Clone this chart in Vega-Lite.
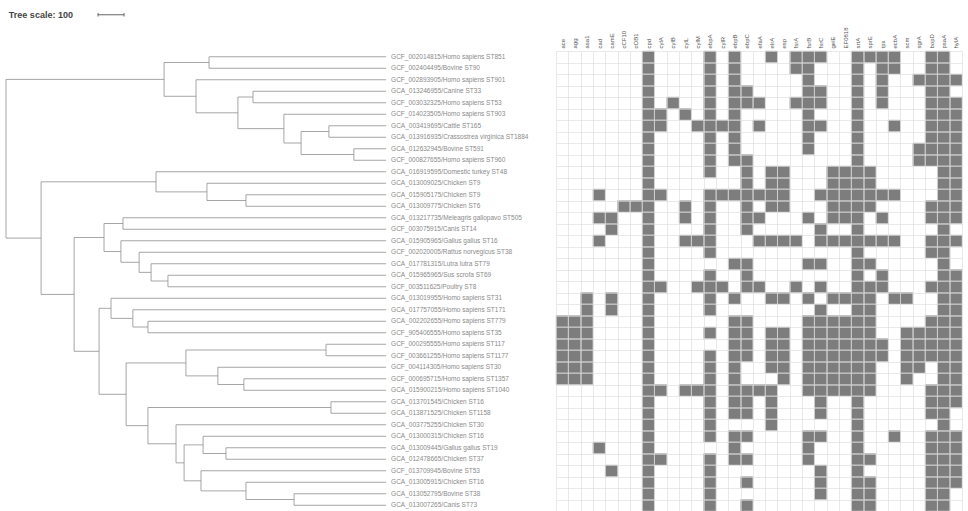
{
  "$schema": "https://vega.github.io/schema/vega-lite/v6.json",
  "padding": {"left": 5, "top": 10, "right": 0, "bottom": 0},
  "spacing": 0,
  "background": "white",
  "config": {"view": {"stroke": null}, "font": "Liberation Sans"},
  "datasets": {
    "tree": [
      {"x":0,"x2":0,"y":1.969,"y2":15.77},
      {"x":0,"x2":608,"y":1.969,"y2":1.969},
      {"x":0,"x2":135,"y":15.77,"y2":15.77},
      {"x":608,"x2":608,"y":0.5,"y2":3.4375},
      {"x":608,"x2":781,"y":0.5,"y2":0.5},
      {"x":608,"x2":731,"y":3.4375,"y2":3.4375},
      {"x":781,"x2":781,"y":0,"y2":1},
      {"x":781,"x2":1462,"y":0,"y2":0},
      {"x":781,"x2":1462,"y":1,"y2":1},
      {"x":731,"x2":731,"y":2,"y2":4.875},
      {"x":731,"x2":1462,"y":2,"y2":2},
      {"x":731,"x2":892,"y":4.875,"y2":4.875},
      {"x":892,"x2":892,"y":3.5,"y2":6.25},
      {"x":892,"x2":950,"y":3.5,"y2":3.5},
      {"x":892,"x2":1069,"y":6.25,"y2":6.25},
      {"x":950,"x2":950,"y":3,"y2":4},
      {"x":950,"x2":1462,"y":3,"y2":3},
      {"x":950,"x2":1462,"y":4,"y2":4},
      {"x":1069,"x2":1069,"y":5,"y2":7.5},
      {"x":1069,"x2":1462,"y":5,"y2":5},
      {"x":1069,"x2":1135,"y":7.5,"y2":7.5},
      {"x":1135,"x2":1135,"y":6.5,"y2":8.5},
      {"x":1135,"x2":1242,"y":6.5,"y2":6.5},
      {"x":1135,"x2":1338,"y":8.5,"y2":8.5},
      {"x":1242,"x2":1242,"y":6,"y2":7},
      {"x":1242,"x2":1462,"y":6,"y2":6},
      {"x":1242,"x2":1462,"y":7,"y2":7},
      {"x":1338,"x2":1338,"y":8,"y2":9},
      {"x":1338,"x2":1462,"y":8,"y2":8},
      {"x":1338,"x2":1462,"y":9,"y2":9},
      {"x":135,"x2":135,"y":10.875,"y2":20.666},
      {"x":135,"x2":577,"y":10.875,"y2":10.875},
      {"x":135,"x2":262,"y":20.666,"y2":20.666},
      {"x":577,"x2":577,"y":10,"y2":11.75},
      {"x":577,"x2":1462,"y":10,"y2":10},
      {"x":577,"x2":773,"y":11.75,"y2":11.75},
      {"x":773,"x2":773,"y":11,"y2":12.5},
      {"x":773,"x2":1462,"y":11,"y2":11},
      {"x":773,"x2":923,"y":12.5,"y2":12.5},
      {"x":923,"x2":923,"y":12,"y2":13},
      {"x":923,"x2":1462,"y":12,"y2":12},
      {"x":923,"x2":1462,"y":13,"y2":13},
      {"x":262,"x2":262,"y":15.719,"y2":25.613},
      {"x":262,"x2":377,"y":15.719,"y2":15.719},
      {"x":262,"x2":358,"y":25.613,"y2":25.613},
      {"x":377,"x2":377,"y":14.5,"y2":16.938},
      {"x":377,"x2":450,"y":14.5,"y2":14.5},
      {"x":377,"x2":442,"y":16.938,"y2":16.938},
      {"x":450,"x2":450,"y":14,"y2":15},
      {"x":450,"x2":1462,"y":14,"y2":14},
      {"x":450,"x2":1462,"y":15,"y2":15},
      {"x":442,"x2":442,"y":16,"y2":17.875},
      {"x":442,"x2":1462,"y":16,"y2":16},
      {"x":442,"x2":512,"y":17.875,"y2":17.875},
      {"x":512,"x2":512,"y":17,"y2":18.75},
      {"x":512,"x2":1462,"y":17,"y2":17},
      {"x":512,"x2":558,"y":18.75,"y2":18.75},
      {"x":558,"x2":558,"y":18,"y2":19.5},
      {"x":558,"x2":1462,"y":18,"y2":18},
      {"x":558,"x2":623,"y":19.5,"y2":19.5},
      {"x":623,"x2":623,"y":19,"y2":20},
      {"x":623,"x2":1462,"y":19,"y2":19},
      {"x":623,"x2":1462,"y":20,"y2":20},
      {"x":358,"x2":358,"y":21.875,"y2":29.352},
      {"x":358,"x2":404,"y":21.875,"y2":21.875},
      {"x":358,"x2":462,"y":29.352,"y2":29.352},
      {"x":404,"x2":404,"y":21,"y2":22.75},
      {"x":404,"x2":1462,"y":21,"y2":21},
      {"x":404,"x2":488,"y":22.75,"y2":22.75},
      {"x":488,"x2":488,"y":22,"y2":23.5},
      {"x":488,"x2":1462,"y":22,"y2":22},
      {"x":488,"x2":546,"y":23.5,"y2":23.5},
      {"x":546,"x2":546,"y":23,"y2":24},
      {"x":546,"x2":1462,"y":23,"y2":23},
      {"x":546,"x2":1462,"y":24,"y2":24},
      {"x":462,"x2":462,"y":26.625,"y2":32.078},
      {"x":462,"x2":692,"y":26.625,"y2":26.625},
      {"x":462,"x2":546,"y":32.078,"y2":32.078},
      {"x":692,"x2":692,"y":25.5,"y2":27.75},
      {"x":692,"x2":1231,"y":25.5,"y2":25.5},
      {"x":692,"x2":815,"y":27.75,"y2":27.75},
      {"x":1231,"x2":1231,"y":25,"y2":26},
      {"x":1231,"x2":1462,"y":25,"y2":25},
      {"x":1231,"x2":1462,"y":26,"y2":26},
      {"x":815,"x2":815,"y":27,"y2":28.5},
      {"x":815,"x2":1462,"y":27,"y2":27},
      {"x":815,"x2":915,"y":28.5,"y2":28.5},
      {"x":915,"x2":915,"y":28,"y2":29},
      {"x":915,"x2":1462,"y":28,"y2":28},
      {"x":915,"x2":1462,"y":29,"y2":29},
      {"x":546,"x2":546,"y":30.5,"y2":33.656},
      {"x":546,"x2":1250,"y":30.5,"y2":30.5},
      {"x":546,"x2":654,"y":33.656,"y2":33.656},
      {"x":1250,"x2":1250,"y":30,"y2":31},
      {"x":1250,"x2":1462,"y":30,"y2":30},
      {"x":1250,"x2":1462,"y":31,"y2":31},
      {"x":654,"x2":654,"y":32,"y2":35.313},
      {"x":654,"x2":1462,"y":32,"y2":32},
      {"x":654,"x2":685,"y":35.313,"y2":35.313},
      {"x":685,"x2":685,"y":33.75,"y2":36.875},
      {"x":685,"x2":758,"y":33.75,"y2":33.75},
      {"x":685,"x2":750,"y":36.875,"y2":36.875},
      {"x":758,"x2":758,"y":33,"y2":34.5},
      {"x":758,"x2":1462,"y":33,"y2":33},
      {"x":758,"x2":846,"y":34.5,"y2":34.5},
      {"x":846,"x2":846,"y":34,"y2":35},
      {"x":846,"x2":1462,"y":34,"y2":34},
      {"x":846,"x2":1462,"y":35,"y2":35},
      {"x":750,"x2":750,"y":36,"y2":37.75},
      {"x":750,"x2":1462,"y":36,"y2":36},
      {"x":750,"x2":923,"y":37.75,"y2":37.75},
      {"x":923,"x2":923,"y":37,"y2":38.5},
      {"x":923,"x2":1462,"y":37,"y2":37},
      {"x":923,"x2":1108,"y":38.5,"y2":38.5},
      {"x":1108,"x2":1108,"y":38,"y2":39},
      {"x":1108,"x2":1462,"y":38,"y2":38},
      {"x":1108,"x2":1462,"y":39,"y2":39}
    ],
    "scalebar": [
      {"x":354,"x2":454,"y":-3.65,"y2":-3.65},
      {"x":354,"x2":354,"y":-3.8,"y2":-3.5},
      {"x":454,"x2":454,"y":-3.8,"y2":-3.5}
    ],
    "title": [{"label":"Tree scale: 100","x":11,"y":-3.65}],
    "leaves": [
      {"row":0,"label":"GCF_002014815/Homo sapiens ST851"},
      {"row":1,"label":"GCF_002404495/Bovine ST90"},
      {"row":2,"label":"GCF_002893905/Homo sapiens ST901"},
      {"row":3,"label":"GCA_013246955/Canine ST33"},
      {"row":4,"label":"GCF_003032325/Homo sapiens ST53"},
      {"row":5,"label":"GCF_014023505/Homo sapiens ST903"},
      {"row":6,"label":"GCA_003419695/Cattle ST165"},
      {"row":7,"label":"GCA_013916935/Crassostrea virginica ST1884"},
      {"row":8,"label":"GCA_012632945/Bovine ST591"},
      {"row":9,"label":"GCF_000827655/Homo sapiens ST960"},
      {"row":10,"label":"GCA_016919595/Domestic turkey ST48"},
      {"row":11,"label":"GCA_013009025/Chicken ST9"},
      {"row":12,"label":"GCA_015905175/Chicken ST9"},
      {"row":13,"label":"GCA_013009775/Chicken ST6"},
      {"row":14,"label":"GCA_013217735/Meleagris gallopavo ST505"},
      {"row":15,"label":"GCF_003075915/Canis ST14"},
      {"row":16,"label":"GCA_015905965/Gallus gallus ST16"},
      {"row":17,"label":"GCF_002020005/Rattus norvegicus ST38"},
      {"row":18,"label":"GCA_017781315/Lutra lutra ST79"},
      {"row":19,"label":"GCA_015965965/Sus scrofa ST69"},
      {"row":20,"label":"GCF_003511625/Poultry ST8"},
      {"row":21,"label":"GCA_013019955/Homo sapiens ST31"},
      {"row":22,"label":"GCA_017757055/Homo sapiens ST171"},
      {"row":23,"label":"GCA_002202655/Homo sapiens ST779"},
      {"row":24,"label":"GCF_905406555/Homo sapiens ST35"},
      {"row":25,"label":"GCF_000295555/Homo sapiens ST117"},
      {"row":26,"label":"GCF_003661255/Homo sapiens ST1177"},
      {"row":27,"label":"GCF_004114305/Homo sapiens ST30"},
      {"row":28,"label":"GCF_000695715/Homo sapiens ST1357"},
      {"row":29,"label":"GCA_015900215/Homo sapiens ST1040"},
      {"row":30,"label":"GCA_013701545/Chicken ST16"},
      {"row":31,"label":"GCA_013871525/Chicken ST1158"},
      {"row":32,"label":"GCA_003775255/Chicken ST30"},
      {"row":33,"label":"GCA_013000315/Chicken ST16"},
      {"row":34,"label":"GCA_013009445/Gallus gallus ST19"},
      {"row":35,"label":"GCA_012478665/Chicken ST37"},
      {"row":36,"label":"GCF_013709945/Bovine ST53"},
      {"row":37,"label":"GCA_013005915/Chicken ST16"},
      {"row":38,"label":"GCA_013052795/Bovine ST38"},
      {"row":39,"label":"GCA_013007265/Canis ST73"}
    ],
    "cells": [
      {"g":"ace","r":23},{"g":"ace","r":24},{"g":"ace","r":25},{"g":"ace","r":26},{"g":"ace","r":27},{"g":"ace","r":28},
      {"g":"agg","r":23},{"g":"agg","r":24},{"g":"agg","r":25},{"g":"agg","r":26},{"g":"agg","r":27},{"g":"agg","r":28},
      {"g":"asa1","r":21},{"g":"asa1","r":22},{"g":"asa1","r":23},{"g":"asa1","r":24},{"g":"asa1","r":25},{"g":"asa1","r":26},{"g":"asa1","r":27},{"g":"asa1","r":28},
      {"g":"cad","r":12},{"g":"cad","r":14},{"g":"cad","r":16},{"g":"cad","r":34},
      {"g":"camE","r":14},{"g":"camE","r":15},{"g":"camE","r":21},{"g":"camE","r":22},{"g":"camE","r":36},
      {"g":"cCF10","r":13},
      {"g":"cOB1","r":13},
      {"g":"cpd","r":0},{"g":"cpd","r":1},{"g":"cpd","r":2},{"g":"cpd","r":3},{"g":"cpd","r":4},{"g":"cpd","r":5},{"g":"cpd","r":6},{"g":"cpd","r":7},{"g":"cpd","r":8},{"g":"cpd","r":9},
      {"g":"cpd","r":10},{"g":"cpd","r":11},{"g":"cpd","r":12},{"g":"cpd","r":13},{"g":"cpd","r":14},{"g":"cpd","r":15},{"g":"cpd","r":16},{"g":"cpd","r":17},{"g":"cpd","r":18},{"g":"cpd","r":19},
      {"g":"cpd","r":20},{"g":"cpd","r":21},{"g":"cpd","r":22},{"g":"cpd","r":23},{"g":"cpd","r":24},{"g":"cpd","r":25},{"g":"cpd","r":26},{"g":"cpd","r":27},{"g":"cpd","r":28},{"g":"cpd","r":29},
      {"g":"cpd","r":30},{"g":"cpd","r":31},{"g":"cpd","r":32},{"g":"cpd","r":33},{"g":"cpd","r":34},{"g":"cpd","r":35},{"g":"cpd","r":36},{"g":"cpd","r":37},{"g":"cpd","r":38},{"g":"cpd","r":39},
      {"g":"cylA","r":5},{"g":"cylA","r":6},{"g":"cylA","r":12},{"g":"cylA","r":20},{"g":"cylA","r":29},{"g":"cylA","r":35},
      {"g":"cylB","r":4},
      {"g":"cylL","r":5},{"g":"cylL","r":13},{"g":"cylL","r":14},{"g":"cylL","r":16},{"g":"cylL","r":29},
      {"g":"cylM","r":6},{"g":"cylM","r":16},{"g":"cylM","r":20},{"g":"cylM","r":29},
      {"g":"ebpA","r":0},{"g":"ebpA","r":1},{"g":"ebpA","r":2},{"g":"ebpA","r":3},{"g":"ebpA","r":4},{"g":"ebpA","r":5},{"g":"ebpA","r":6},{"g":"ebpA","r":7},{"g":"ebpA","r":8},{"g":"ebpA","r":9},{"g":"ebpA","r":10},
      {"g":"ebpA","r":12},{"g":"ebpA","r":13},{"g":"ebpA","r":14},{"g":"ebpA","r":15},{"g":"ebpA","r":16},{"g":"ebpA","r":17},
      {"g":"ebpA","r":19},{"g":"ebpA","r":20},{"g":"ebpA","r":21},{"g":"ebpA","r":22},{"g":"ebpA","r":24},
      {"g":"ebpA","r":26},{"g":"ebpA","r":27},{"g":"ebpA","r":28},{"g":"ebpA","r":29},{"g":"ebpA","r":30},{"g":"ebpA","r":31},{"g":"ebpA","r":32},{"g":"ebpA","r":33},
      {"g":"ebpA","r":35},{"g":"ebpA","r":36},{"g":"ebpA","r":37},{"g":"ebpA","r":38},{"g":"ebpA","r":39},
      {"g":"cylR","r":6},{"g":"cylR","r":12},{"g":"cylR","r":20},
      {"g":"ebpB","r":0},{"g":"ebpB","r":1},{"g":"ebpB","r":2},{"g":"ebpB","r":3},{"g":"ebpB","r":4},{"g":"ebpB","r":5},{"g":"ebpB","r":6},{"g":"ebpB","r":7},{"g":"ebpB","r":8},{"g":"ebpB","r":9},
      {"g":"ebpB","r":12},{"g":"ebpB","r":18},{"g":"ebpB","r":21},
      {"g":"ebpB","r":23},{"g":"ebpB","r":24},{"g":"ebpB","r":25},{"g":"ebpB","r":26},{"g":"ebpB","r":27},{"g":"ebpB","r":28},{"g":"ebpB","r":29},{"g":"ebpB","r":30},{"g":"ebpB","r":31},
      {"g":"ebpB","r":33},{"g":"ebpB","r":34},{"g":"ebpB","r":35},
      {"g":"ebpC","r":3},{"g":"ebpC","r":4},{"g":"ebpC","r":9},{"g":"ebpC","r":10},{"g":"ebpC","r":11},{"g":"ebpC","r":12},{"g":"ebpC","r":13},{"g":"ebpC","r":14},{"g":"ebpC","r":15},
      {"g":"ebpC","r":18},{"g":"ebpC","r":19},{"g":"ebpC","r":20},{"g":"ebpC","r":23},{"g":"ebpC","r":24},{"g":"ebpC","r":25},{"g":"ebpC","r":26},
      {"g":"ebpC","r":29},{"g":"ebpC","r":30},{"g":"ebpC","r":31},{"g":"ebpC","r":33},{"g":"ebpC","r":35},{"g":"ebpC","r":37},{"g":"ebpC","r":39},
      {"g":"efaA","r":4},{"g":"efaA","r":6},{"g":"efaA","r":12},{"g":"efaA","r":14},{"g":"efaA","r":16},{"g":"efaA","r":20},{"g":"efaA","r":29},
      {"g":"elrA","r":0},{"g":"elrA","r":10},{"g":"elrA","r":11},{"g":"elrA","r":12},{"g":"elrA","r":13},{"g":"elrA","r":16},{"g":"elrA","r":21},
      {"g":"elrA","r":24},{"g":"elrA","r":25},{"g":"elrA","r":26},{"g":"elrA","r":27},{"g":"elrA","r":29},{"g":"elrA","r":30},{"g":"elrA","r":31},{"g":"elrA","r":32},
      {"g":"esp","r":10},{"g":"esp","r":11},{"g":"esp","r":12},{"g":"esp","r":13},{"g":"esp","r":16},{"g":"esp","r":21},
      {"g":"esp","r":24},{"g":"esp","r":25},{"g":"esp","r":26},{"g":"esp","r":27},{"g":"esp","r":28},
      {"g":"fsrA","r":0},{"g":"fsrA","r":1},{"g":"fsrA","r":4},{"g":"fsrA","r":16},{"g":"fsrA","r":20},
      {"g":"fsrB","r":0},{"g":"fsrB","r":1},{"g":"fsrB","r":2},{"g":"fsrB","r":3},{"g":"fsrB","r":4},{"g":"fsrB","r":5},{"g":"fsrB","r":6},{"g":"fsrB","r":7},{"g":"fsrB","r":8},
      {"g":"fsrB","r":14},{"g":"fsrB","r":18},{"g":"fsrB","r":21},
      {"g":"fsrB","r":23},{"g":"fsrB","r":24},{"g":"fsrB","r":25},{"g":"fsrB","r":26},{"g":"fsrB","r":27},{"g":"fsrB","r":28},{"g":"fsrB","r":29},
      {"g":"fsrB","r":33},{"g":"fsrB","r":34},{"g":"fsrB","r":35},
      {"g":"fsrC","r":0},{"g":"fsrC","r":3},{"g":"fsrC","r":4},{"g":"fsrC","r":6},{"g":"fsrC","r":12},{"g":"fsrC","r":15},{"g":"fsrC","r":16},{"g":"fsrC","r":18},{"g":"fsrC","r":20},
      {"g":"fsrC","r":22},{"g":"fsrC","r":23},{"g":"fsrC","r":24},{"g":"fsrC","r":25},{"g":"fsrC","r":26},{"g":"fsrC","r":27},{"g":"fsrC","r":28},{"g":"fsrC","r":29},{"g":"fsrC","r":30},{"g":"fsrC","r":31},
      {"g":"fsrC","r":33},{"g":"fsrC","r":36},{"g":"fsrC","r":37},{"g":"fsrC","r":38},
      {"g":"gelE","r":10},{"g":"gelE","r":11},{"g":"gelE","r":12},{"g":"gelE","r":13},{"g":"gelE","r":14},{"g":"gelE","r":16},{"g":"gelE","r":21},
      {"g":"gelE","r":23},{"g":"gelE","r":24},{"g":"gelE","r":25},{"g":"gelE","r":26},{"g":"gelE","r":27},{"g":"gelE","r":28},{"g":"gelE","r":29},
      {"g":"EF0818","r":10},{"g":"EF0818","r":11},{"g":"EF0818","r":12},{"g":"EF0818","r":13},{"g":"EF0818","r":14},{"g":"EF0818","r":16},{"g":"EF0818","r":21},
      {"g":"EF0818","r":23},{"g":"EF0818","r":24},{"g":"EF0818","r":25},{"g":"EF0818","r":26},{"g":"EF0818","r":27},{"g":"EF0818","r":28},{"g":"EF0818","r":29},
      {"g":"srtA","r":0},{"g":"srtA","r":1},{"g":"srtA","r":2},{"g":"srtA","r":3},{"g":"srtA","r":4},{"g":"srtA","r":5},{"g":"srtA","r":6},{"g":"srtA","r":7},{"g":"srtA","r":8},{"g":"srtA","r":9},
      {"g":"srtA","r":10},{"g":"srtA","r":11},{"g":"srtA","r":12},{"g":"srtA","r":13},{"g":"srtA","r":14},{"g":"srtA","r":15},{"g":"srtA","r":16},{"g":"srtA","r":17},{"g":"srtA","r":18},{"g":"srtA","r":19},
      {"g":"srtA","r":20},{"g":"srtA","r":21},{"g":"srtA","r":22},{"g":"srtA","r":23},{"g":"srtA","r":24},{"g":"srtA","r":25},{"g":"srtA","r":26},{"g":"srtA","r":27},{"g":"srtA","r":28},{"g":"srtA","r":29},
      {"g":"srtA","r":30},{"g":"srtA","r":31},{"g":"srtA","r":32},{"g":"srtA","r":33},{"g":"srtA","r":34},{"g":"srtA","r":35},{"g":"srtA","r":36},{"g":"srtA","r":37},{"g":"srtA","r":38},{"g":"srtA","r":39},
      {"g":"sprE","r":0},{"g":"sprE","r":10},{"g":"sprE","r":11},{"g":"sprE","r":12},{"g":"sprE","r":13},{"g":"sprE","r":16},{"g":"sprE","r":18},
      {"g":"sprE","r":20},{"g":"sprE","r":21},{"g":"sprE","r":22},{"g":"sprE","r":23},{"g":"sprE","r":24},{"g":"sprE","r":25},{"g":"sprE","r":26},{"g":"sprE","r":27},{"g":"sprE","r":28},{"g":"sprE","r":29},
      {"g":"sprE","r":35},{"g":"sprE","r":37},{"g":"sprE","r":38},{"g":"sprE","r":39},
      {"g":"tpx","r":0},{"g":"tpx","r":1},{"g":"tpx","r":2},{"g":"tpx","r":3},{"g":"tpx","r":4},{"g":"tpx","r":12},{"g":"tpx","r":14},{"g":"tpx","r":16},{"g":"tpx","r":19},{"g":"tpx","r":20},{"g":"tpx","r":25},{"g":"tpx","r":26},
      {"g":"ecbA","r":0},{"g":"ecbA","r":1},{"g":"ecbA","r":6},{"g":"ecbA","r":12},{"g":"ecbA","r":16},{"g":"ecbA","r":21},{"g":"ecbA","r":33},
      {"g":"scm","r":21},{"g":"scm","r":24},{"g":"scm","r":25},{"g":"scm","r":26},{"g":"scm","r":27},{"g":"scm","r":28},
      {"g":"sgrA","r":2},{"g":"sgrA","r":8},{"g":"sgrA","r":9},{"g":"sgrA","r":24},{"g":"sgrA","r":25},{"g":"sgrA","r":26},{"g":"sgrA","r":27},
      {"g":"bopD","r":0},{"g":"bopD","r":1},{"g":"bopD","r":2},{"g":"bopD","r":3},{"g":"bopD","r":4},{"g":"bopD","r":5},{"g":"bopD","r":6},{"g":"bopD","r":7},{"g":"bopD","r":8},{"g":"bopD","r":9},
      {"g":"bopD","r":13},{"g":"bopD","r":14},{"g":"bopD","r":16},{"g":"bopD","r":17},{"g":"bopD","r":20},
      {"g":"bopD","r":23},{"g":"bopD","r":24},{"g":"bopD","r":25},{"g":"bopD","r":26},{"g":"bopD","r":29},{"g":"bopD","r":30},{"g":"bopD","r":31},
      {"g":"bopD","r":33},{"g":"bopD","r":34},{"g":"bopD","r":35},{"g":"bopD","r":36},{"g":"bopD","r":37},{"g":"bopD","r":38},{"g":"bopD","r":39},
      {"g":"psaA","r":0},{"g":"psaA","r":1},{"g":"psaA","r":2},{"g":"psaA","r":3},{"g":"psaA","r":4},{"g":"psaA","r":5},{"g":"psaA","r":6},{"g":"psaA","r":7},{"g":"psaA","r":8},{"g":"psaA","r":9},
      {"g":"psaA","r":10},{"g":"psaA","r":11},{"g":"psaA","r":12},{"g":"psaA","r":13},{"g":"psaA","r":14},{"g":"psaA","r":15},{"g":"psaA","r":16},{"g":"psaA","r":17},{"g":"psaA","r":18},{"g":"psaA","r":19},
      {"g":"psaA","r":20},{"g":"psaA","r":21},{"g":"psaA","r":22},{"g":"psaA","r":23},{"g":"psaA","r":24},{"g":"psaA","r":25},{"g":"psaA","r":26},{"g":"psaA","r":27},{"g":"psaA","r":28},{"g":"psaA","r":29},
      {"g":"psaA","r":30},{"g":"psaA","r":31},{"g":"psaA","r":32},{"g":"psaA","r":33},{"g":"psaA","r":34},{"g":"psaA","r":35},{"g":"psaA","r":36},{"g":"psaA","r":37},{"g":"psaA","r":38},{"g":"psaA","r":39},
      {"g":"hylA","r":2},{"g":"hylA","r":4},{"g":"hylA","r":5},{"g":"hylA","r":6},{"g":"hylA","r":7},{"g":"hylA","r":8},{"g":"hylA","r":9},{"g":"hylA","r":10},{"g":"hylA","r":11},{"g":"hylA","r":12},{"g":"hylA","r":13},{"g":"hylA","r":14},
      {"g":"hylA","r":16},{"g":"hylA","r":19},{"g":"hylA","r":20},{"g":"hylA","r":21},{"g":"hylA","r":22},{"g":"hylA","r":23},{"g":"hylA","r":24},{"g":"hylA","r":25},{"g":"hylA","r":26},{"g":"hylA","r":27},{"g":"hylA","r":28},{"g":"hylA","r":29},{"g":"hylA","r":30},
      {"g":"hylA","r":33},{"g":"hylA","r":34},{"g":"hylA","r":35},{"g":"hylA","r":36},{"g":"hylA","r":37}
    ]
  },
  "hconcat": [
    {
      "width": 547,
      "height": 460,
      "layer": [
        {
          "data": {"name": "tree"},
          "mark": {"type": "rule", "stroke": "#8f8f8f", "strokeWidth": 0.8},
          "encoding": {
            "x": {"field": "x", "type": "quantitative", "scale": {"domain": [0, 2104], "nice": false, "zero": false}, "axis": null},
            "x2": {"field": "x2"},
            "y": {"field": "y", "type": "quantitative", "scale": {"domain": [-0.5, 39.5], "reverse": true, "nice": false, "zero": false}, "axis": null},
            "y2": {"field": "y2"}
          }
        },
        {
          "data": {"name": "scalebar"},
          "mark": {"type": "rule", "stroke": "#555555", "strokeWidth": 0.9},
          "encoding": {
            "x": {"field": "x", "type": "quantitative"},
            "x2": {"field": "x2"},
            "y": {"field": "y", "type": "quantitative"},
            "y2": {"field": "y2"}
          }
        },
        {
          "data": {"name": "title"},
          "mark": {"type": "text", "align": "left", "baseline": "middle", "fontSize": 9, "fontWeight": "bold", "fill": "#444444"},
          "encoding": {
            "x": {"field": "x", "type": "quantitative"},
            "y": {"field": "y", "type": "quantitative"},
            "text": {"field": "label"}
          }
        },
        {
          "data": {"name": "leaves"},
          "mark": {"type": "text", "align": "left", "baseline": "middle", "dx": 5, "fontSize": 6.5, "fill": "#8a8a8a"},
          "encoding": {
            "x": {"datum": 1462, "type": "quantitative"},
            "y": {"field": "row", "type": "quantitative"},
            "text": {"field": "label"}
          }
        }
      ]
    },
    {
      "width": 406,
      "height": 460,
      "data": {"name": "cells"},
      "mark": {"type": "rect", "fill": "#7d7d7d", "stroke": "#c8c8c8", "strokeWidth": 0.6},
      "encoding": {
        "x": {
          "field": "g", "type": "nominal",
          "scale": {"domain": ["ace","agg","asa1","cad","camE","cCF10","cOB1","cpd","cylA","cylB","cylL","cylM","ebpA","cylR","ebpB","ebpC","efaA","elrA","esp","fsrA","fsrB","fsrC","gelE","EF0818","srtA","sprE","tpx","ecbA","scm","sgrA","bopD","psaA","hylA"], "paddingInner": 0, "paddingOuter": 0},
          "axis": {"orient": "top", "title": null, "labelAngle": -90, "labelFontSize": 6, "labelColor": "#555555", "ticks": false, "domain": false, "labelPadding": 3, "grid": true, "tickBand": "extent", "gridColor": "#dadada", "gridWidth": 0.6}
        },
        "y": {
          "field": "r", "type": "ordinal",
          "scale": {"domain": [0,1,2,3,4,5,6,7,8,9,10,11,12,13,14,15,16,17,18,19,20,21,22,23,24,25,26,27,28,29,30,31,32,33,34,35,36,37,38,39], "paddingInner": 0, "paddingOuter": 0},
          "axis": {"title": null, "labels": false, "ticks": false, "domain": false, "grid": true, "tickBand": "extent", "gridColor": "#dadada", "gridWidth": 0.6, "labelPadding": 0, "minExtent": 0, "maxExtent": 0, "offset": 0}
        }
      }
    }
  ]
}
